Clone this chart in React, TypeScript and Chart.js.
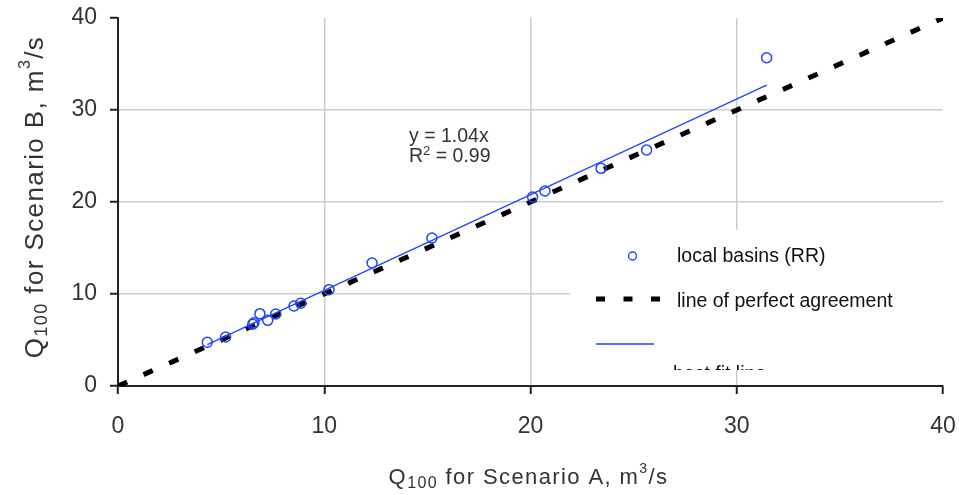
import React, { useEffect, useRef } from 'react';
import { Chart, registerables } from 'chart.js';

Chart.register(...registerables);

// Data
const scenarioA = [4.33, 5.22, 6.53, 6.59, 6.88, 7.26, 7.65, 8.53, 8.86, 10.23, 12.32, 15.22, 20.1, 20.7, 23.42, 25.63, 31.45];
const scenarioB = [4.75, 5.33, 6.71, 6.88, 7.86, 7.14, 7.83, 8.7, 8.99, 10.47, 13.37, 16.09, 20.54, 21.2, 23.66, 25.65, 35.68];
const perfectX = [0, 40];
const fitSlope = 1.04;
const fitX = [4.33, 31.45];
const axisMin = 0;
const axisMax = 40;
const axisStep = 10;

const seriesLabels = ['local basins (RR)', 'line of perfect agreement', 'best fit line'];
const fitEquation = 'y = 1.04x';
const fitR2 = '0.99';

const FONT = "'Liberation Sans', Arial, sans-serif";
const BLUE = '#1f45fc';
const TEXT = '#333333';

type Part = { t: string; size: number; dy: number };

function drawRich(ctx: CanvasRenderingContext2D, parts: Part[], x: number, y: number, align: 'left' | 'center', spacing: number) {
  ctx.save();
  (ctx as any).letterSpacing = spacing + 'px';
  ctx.textBaseline = 'alphabetic';
  ctx.textAlign = 'left';
  const widths = parts.map((p) => {
    ctx.font = `${p.size}px ${FONT}`;
    return ctx.measureText(p.t).width;
  });
  const total = widths.reduce((a, b) => a + b, 0);
  let cx = align === 'center' ? x - total / 2 : x;
  parts.forEach((p, i) => {
    ctx.font = `${p.size}px ${FONT}`;
    ctx.fillText(p.t, cx, y + p.dy);
    cx += widths[i];
  });
  ctx.restore();
}

const decorPlugin = {
  id: 'decor',
  afterDraw(chart: any) {
    const ctx: CanvasRenderingContext2D = chart.ctx;
    const area = chart.chartArea;
    const cxMid = (area.left + area.right) / 2;
    const cyMid = (area.top + area.bottom) / 2;
    ctx.save();
    ctx.fillStyle = TEXT;

    // X axis title
    drawRich(ctx, [
      { t: 'Q', size: 22, dy: 0 },
      { t: '100', size: 16, dy: 4 },
      { t: ' for Scenario A, m', size: 22, dy: 0 },
      { t: '3', size: 14, dy: -11 },
      { t: '/s', size: 22, dy: 0 },
    ], cxMid - 2, 484, 'center', 1.4);

    // Y axis title
    ctx.save();
    ctx.translate(43, cyMid - 5);
    ctx.rotate(-Math.PI / 2);
    drawRich(ctx, [
      { t: 'Q', size: 26, dy: 0 },
      { t: '100', size: 18, dy: 4 },
      { t: ' for Scenario B, m', size: 26, dy: 0 },
      { t: '3', size: 16, dy: -13 },
      { t: '/s', size: 26, dy: 0 },
    ], 0, 0, 'center', 1.4);
    ctx.restore();

    // Regression annotation
    drawRich(ctx, [{ t: fitEquation, size: 19.5, dy: 0 }], 409, 141.5, 'left', 0);
    drawRich(ctx, [
      { t: 'R', size: 19.5, dy: 0 },
      { t: '2', size: 13, dy: -7 },
      { t: ' = ' + fitR2, size: 19.5, dy: 0 },
    ], 409, 162, 'left', 0);

    // Legend box
    const bx = 570, by = 230, bw = 959 - 570, bh = 140;
    ctx.save();
    ctx.beginPath();
    ctx.rect(bx, by, bw, bh);
    ctx.fillStyle = '#ffffff';
    ctx.fill();
    ctx.clip();

    // item 1: circle
    ctx.beginPath();
    ctx.arc(632.5, 256, 4, 0, Math.PI * 2);
    ctx.strokeStyle = BLUE;
    ctx.lineWidth = 1.5;
    ctx.stroke();
    ctx.fillStyle = '#111';
    drawRich(ctx, [{ t: seriesLabels[0], size: 19.5, dy: 0 }], 677, 262, 'left', 0);

    // item 2: dashed
    ctx.beginPath();
    ctx.setLineDash([9, 18.5]);
    ctx.moveTo(596, 299);
    ctx.lineTo(662, 299);
    ctx.strokeStyle = '#000';
    ctx.lineWidth = 5;
    ctx.stroke();
    ctx.setLineDash([]);
    drawRich(ctx, [{ t: seriesLabels[1], size: 19.5, dy: 0 }], 677, 306.5, 'left', 0);

    // item 3: fit line
    ctx.beginPath();
    ctx.moveTo(596, 344);
    ctx.lineTo(654, 344);
    ctx.strokeStyle = BLUE;
    ctx.lineWidth = 1.5;
    ctx.stroke();
    drawRich(ctx, [{ t: seriesLabels[2], size: 19.5, dy: 0 }], 673, 380, 'left', 0);
    ctx.restore();

    ctx.restore();
  },
};

const zeroPad = (s: any) => {
  s.paddingLeft = 0;
  s.paddingRight = 0;
  s.paddingTop = 0;
  s.paddingBottom = 0;
};

export default function App() {
  const ref = useRef<HTMLCanvasElement | null>(null);

  useEffect(() => {
    if (!ref.current) return;
    const points = scenarioA.map((x, i) => ({ x, y: scenarioB[i] }));
    const perfect = perfectX.map((x) => ({ x, y: x }));
    const fit = fitX.map((x) => ({ x, y: fitSlope * x }));

    const gridColor = (c: any) =>
      c.tick && (c.tick.value === axisMin || c.tick.value === axisMax) ? 'rgba(0,0,0,0)' : '#cccccc';

    const chart = new Chart(ref.current, {
      type: 'scatter',
      data: {
        datasets: [
          {
            label: seriesLabels[0],
            data: points,
            showLine: false,
            pointStyle: 'circle',
            pointRadius: 5,
            pointBorderWidth: 1.5,
            pointBorderColor: BLUE,
            pointBackgroundColor: 'rgba(255,255,255,0)',
            order: 0,
          },
          {
            label: seriesLabels[2],
            data: fit,
            showLine: true,
            borderColor: BLUE,
            borderWidth: 1.3,
            pointRadius: 0,
            order: 1,
          },
          {
            label: seriesLabels[1],
            data: perfect,
            showLine: true,
            borderColor: '#000000',
            borderWidth: 5,
            borderDash: [10, 18],
            borderCapStyle: 'butt',
            pointRadius: 0,
            order: 2,
          },
        ],
      },
      options: {
        animation: false,
        responsive: true,
        maintainAspectRatio: false,
        layout: { padding: { left: 0, right: 16, top: 18, bottom: 0 } },
        plugins: {
          legend: { display: false },
          tooltip: { enabled: false },
        },
        scales: {
          x: {
            type: 'linear',
            min: axisMin,
            max: axisMax,
            afterFit: (s: any) => { s.height = 109; zeroPad(s); },
            ticks: {
              stepSize: axisStep,
              padding: 19,
              color: TEXT,
              font: { family: FONT, size: 23 },
            },
            grid: {
              color: gridColor,
              lineWidth: 1.5,
              tickColor: '#222222',
              tickWidth: 2,
              tickLength: 8,
            },
            border: { display: true, color: '#222222', width: 2 },
          },
          y: {
            type: 'linear',
            min: axisMin,
            max: axisMax,
            afterFit: (s: any) => { s.width = 118; zeroPad(s); },
            ticks: {
              stepSize: axisStep,
              padding: 13,
              color: TEXT,
              font: { family: FONT, size: 23 },
            },
            grid: {
              color: gridColor,
              lineWidth: 1.5,
              tickColor: '#222222',
              tickWidth: 2,
              tickLength: 8,
            },
            border: { display: true, color: '#222222', width: 2 },
          },
        },
      },
      plugins: [decorPlugin],
    });
    return () => chart.destroy();
  }, []);

  return (
    <div style={{ position: 'absolute', left: 0, top: 0, width: 959, height: 495, background: '#fff' }}>
      <canvas ref={ref} />
    </div>
  );
}
